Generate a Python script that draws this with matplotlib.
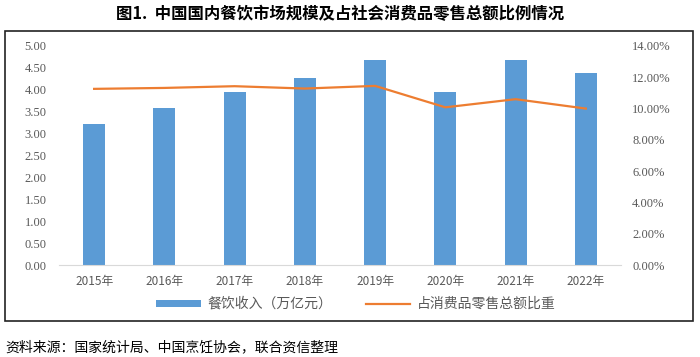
import matplotlib
matplotlib.use("Agg")
import matplotlib.pyplot as plt
from matplotlib.patches import Rectangle
from matplotlib.ticker import FuncFormatter

plt.rcParams['font.family'] = ['Noto Sans CJK SC', 'DejaVu Sans']

years = ['2015年', '2016年', '2017年', '2018年', '2019年', '2020年', '2021年', '2022年']
revenue = [3.23, 3.58, 3.96, 4.27, 4.67, 3.95, 4.69, 4.39]
share = [11.26, 11.32, 11.43, 11.28, 11.45, 10.08, 10.60, 10.00]

title = '图1.  中国国内餐饮市场规模及占社会消费品零售总额比例情况'
source = '资料来源：国家统计局、中国烹饪协会，联合资信整理'
bar_label = '餐饮收入（万亿元）'
line_label = '占消费品零售总额比重'

bar_color = '#5B9BD5'
line_color = '#ED7D31'
tick_color = '#595959'

fig = plt.figure(figsize=(7.0, 3.57), dpi=100)

# outer frame
fig.patches.append(Rectangle((5/700, 1-321/357), 688/700, (321-31)/357,
                             transform=fig.transFigure, fill=False,
                             edgecolor='#222222', linewidth=1.2))

ax = fig.add_axes([59/700, 1-265/357, 562/700, (265-46)/357])
x = list(range(len(years)))
ax.bar(x, revenue, width=0.31, color=bar_color, label=bar_label, zorder=2)
ax.set_xlim(-0.5, len(years)-0.5)
ax.set_ylim(0, 5.0)
ax.set_yticks([i*0.5 for i in range(11)])
ax.yaxis.set_major_formatter(FuncFormatter(lambda v, p: f'{v:.2f}'))
ax.set_xticks(x)
ax.set_xticklabels(years)
for s in ['top', 'right', 'left']:
    ax.spines[s].set_visible(False)
ax.spines['bottom'].set_color('#D9D9D9')
ax.tick_params(axis='both', length=0, colors=tick_color, labelsize=8.5)
ax.tick_params(axis='y', pad=9)
ax.tick_params(axis='x', pad=7)
for lab in ax.get_yticklabels():
    lab.set_family(['Liberation Serif', 'DejaVu Serif'])
    lab.set_fontsize(9)

ax2 = ax.twinx()
ax2.plot(x, share, color=line_color, linewidth=1.6, label=line_label, zorder=3)
ax2.set_ylim(0, 14)
ax2.set_yticks([i*2 for i in range(8)])
ax2.yaxis.set_major_formatter(FuncFormatter(lambda v, p: f'{v:.2f}%'))
for s in ['top', 'right', 'left', 'bottom']:
    ax2.spines[s].set_visible(False)
ax2.tick_params(axis='y', length=0, colors=tick_color, pad=8)
for lab in ax2.get_yticklabels():
    lab.set_family(['Liberation Serif', 'DejaVu Serif'])
    lab.set_fontsize(9)

h1, l1 = ax.get_legend_handles_labels()
h2, l2 = ax2.get_legend_handles_labels()
leg = fig.legend(h1 + h2, l1 + l2, loc='center', bbox_to_anchor=(356/700, 1-304/357),
                 ncol=2, frameon=False, fontsize=10, handlelength=3.2, handleheight=0.4,
                 columnspacing=2.4, handletextpad=0.5)
for t in leg.get_texts():
    t.set_color(tick_color)

fig.text(340/700, 1-14/357, title, ha='center', va='center', fontsize=11.8, fontweight='bold')
fig.text(5/700, 1-347/357, source, ha='left', va='center', fontsize=10)

fig.savefig('out.png', dpi=100)
